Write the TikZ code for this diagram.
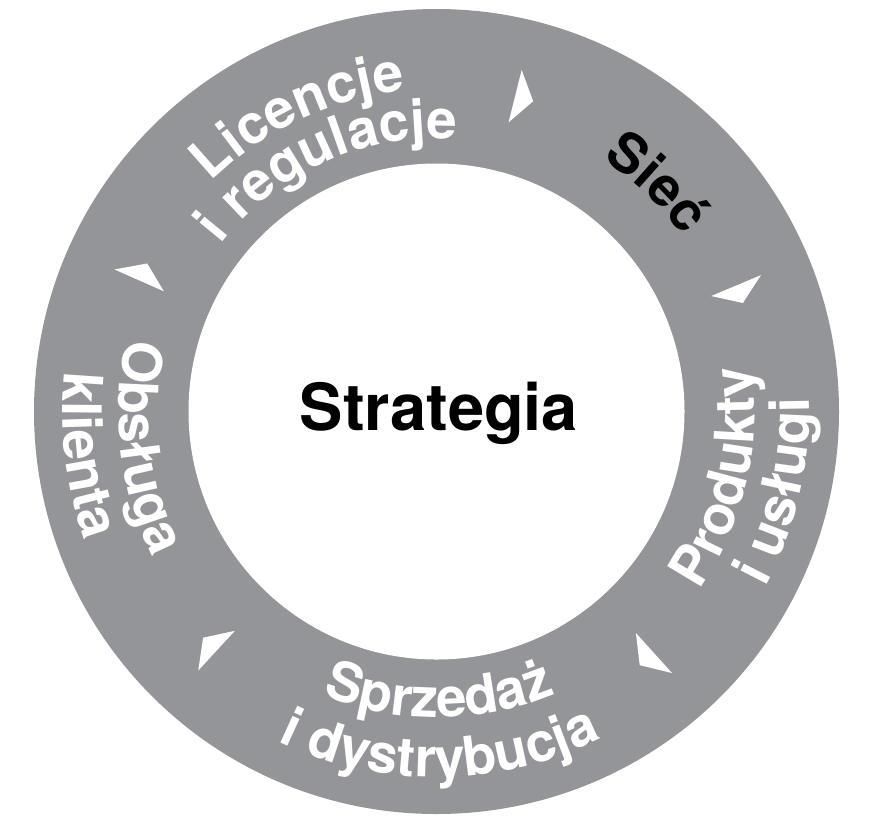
\documentclass[tikz,border=0pt]{standalone}
\usepackage{fontspec}
\setmainfont{TeX Gyre Heros}
\usetikzlibrary{decorations.text}
\definecolor{ringgray}{RGB}{147,149,152}
\newcommand{\ringfont}{\fontsize{31}{37}\selectfont\bfseries}
\tikzset{x=0.02cm, y=0.02cm,
  ringlabel/.style={decorate, decoration={text along path, text align=center, text={#1}}}}

\begin{document}
\begin{tikzpicture}
  \useasboundingbox (-436.5,-417.5) rectangle (437.5,411.5);
  % ring
  \fill[ringgray] (0,0) circle[radius=402.5];
  \fill[white] (0,0) circle[radius=248];
  % arrowheads, clockwise
  \foreach \a in {76, 22.8, -48, -132.6, 156.2}
    \fill[white] (\a:298) -- (\a:352) -- (\a-3.3:325) -- cycle;

  \node[anchor=base, font=\fontsize{37}{40}\selectfont\bfseries] (strat) at (2.5,-18.5) {Strategia};

  % upper labels run clockwise
  \path[ringlabel={|\ringfont\color{white}|Licencje}] (175:322) arc[start angle=175, end angle=55, radius=322];
  \path[ringlabel={|\ringfont\color{white}|i regulacje}] (174:273) arc[start angle=174, end angle=54, radius=273];
  \path[ringlabel={|\ringfont|Sieć}] (106:302) arc[start angle=106, end angle=-14, radius=302];
  % lower labels run counter-clockwise
  \path[ringlabel={|\ringfont\color{white}|Produkty}] (-73:318) arc[start angle=-73, end angle=47, radius=318];
  \path[ringlabel={|\ringfont\color{white}|i usługi}] (-73:373) arc[start angle=-73, end angle=47, radius=373];
  \path[ringlabel={|\ringfont\color{white}|Sprzedaż}] (-149.5:306) arc[start angle=-149.5, end angle=-29.5, radius=306];
  \path[ringlabel={|\ringfont\color{white}|i dystrybucja}] (-149.5:366) arc[start angle=-149.5, end angle=-29.5, radius=366];
  \path[ringlabel={|\ringfont\color{white}|Obsługa}] (127:318) arc[start angle=127, end angle=247, radius=318];
  \path[ringlabel={|\ringfont\color{white}|klienta}] (127:374) arc[start angle=127, end angle=247, radius=374];
\end{tikzpicture}
\end{document}
